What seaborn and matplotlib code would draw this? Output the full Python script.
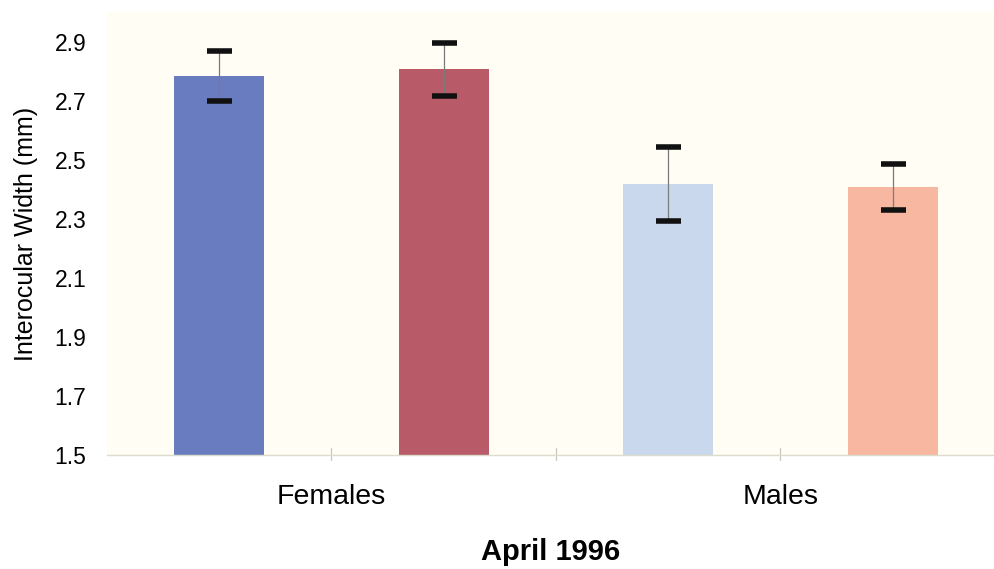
import matplotlib
matplotlib.use("Agg")
import matplotlib.pyplot as plt
import seaborn as sns
import pandas as pd

# Mean interocular width (mm) and error half-widths, April 1996
categories = ["Females", "Males"]
series = ["A", "B"]
means_a = [2.785, 2.418]
means_b = [2.808, 2.408]
errs_a = [0.085, 0.125]
errs_b = [0.090, 0.078]
bar_colors = ["#6a7cc0", "#b95a69", "#c9d8ec", "#f7b7a0"]
yticks = [1.5, 1.7, 1.9, 2.1, 2.3, 2.5, 2.7, 2.9]

df = pd.DataFrame({
    "sex": categories * 2,
    "series": [series[0]] * 2 + [series[1]] * 2,
    "width": means_a + means_b,
    "err": errs_a + errs_b,
})

sns.set_theme(style="white")
plt.rcParams["font.family"] = ["Liberation Sans", "DejaVu Sans"]
plt.rcParams["text.color"] = "black"
plt.rcParams["axes.labelcolor"] = "black"
plt.rcParams["xtick.color"] = "black"
plt.rcParams["ytick.color"] = "black"

fig = plt.figure(figsize=(9.95, 5.69), dpi=100)
ax = fig.add_axes([0.1075, 0.2004, 0.8925, 0.7777])
ax.set_facecolor("#fffdf4")

sns.barplot(data=df, x="sex", y="width", hue="series", order=categories,
            hue_order=series, width=1.0, gap=0.6, ax=ax, legend=False,
            errorbar=None, linewidth=0)

# Recolour bars left to right and attach error bars at their centres
bars = sorted(ax.patches, key=lambda p: p.get_x())
centers = []
for patch, col in zip(bars, bar_colors):
    patch.set_facecolor(col)
    patch.set_edgecolor("none")
    centers.append(patch.get_x() + patch.get_width() / 2)

indexed = df.set_index(["sex", "series"])
order_keys = [(c, s) for c in categories for s in series]
vals = [indexed.loc[k, "width"] for k in order_keys]
errs = [indexed.loc[k, "err"] for k in order_keys]

ax.errorbar(centers, vals, yerr=errs, fmt="none", ecolor="#7a7a7a",
            elinewidth=0.9, capsize=0, zorder=3)
ax.errorbar(centers, vals, yerr=errs, fmt="none", ecolor="#111111",
            elinewidth=0, capsize=9, capthick=4, zorder=4)

ax.set_ylim(1.5, 3.0)
ax.set_xlim(-0.5, 1.478)
ax.set_yticks(yticks)
ax.set_yticklabels([f"{v:.1f}" for v in yticks], fontsize=16.5)
ax.tick_params(axis="y", length=0, pad=15)

ax.set_xticks([0, 1])
ax.set_xticklabels(categories, fontsize=20.5)
ax.tick_params(axis="x", length=0, pad=21)
for xm in [0, 0.5, 1.0]:
    ax.plot([xm, xm], [1.5 - 0.017, 1.5 + 0.022], color="#c8c8c0",
            lw=0.9, clip_on=False, zorder=1)

for side in ["left", "right", "top"]:
    ax.spines[side].set_visible(False)
ax.spines["bottom"].set_color("#dcdccc")
ax.spines["bottom"].set_linewidth(1.0)

ax.set_ylabel("Interocular Width (mm)", fontsize=18, labelpad=12)
ax.set_xlabel("April 1996", fontsize=21, fontweight="bold", labelpad=20)

fig.savefig("out.png", dpi=100, facecolor="white")
